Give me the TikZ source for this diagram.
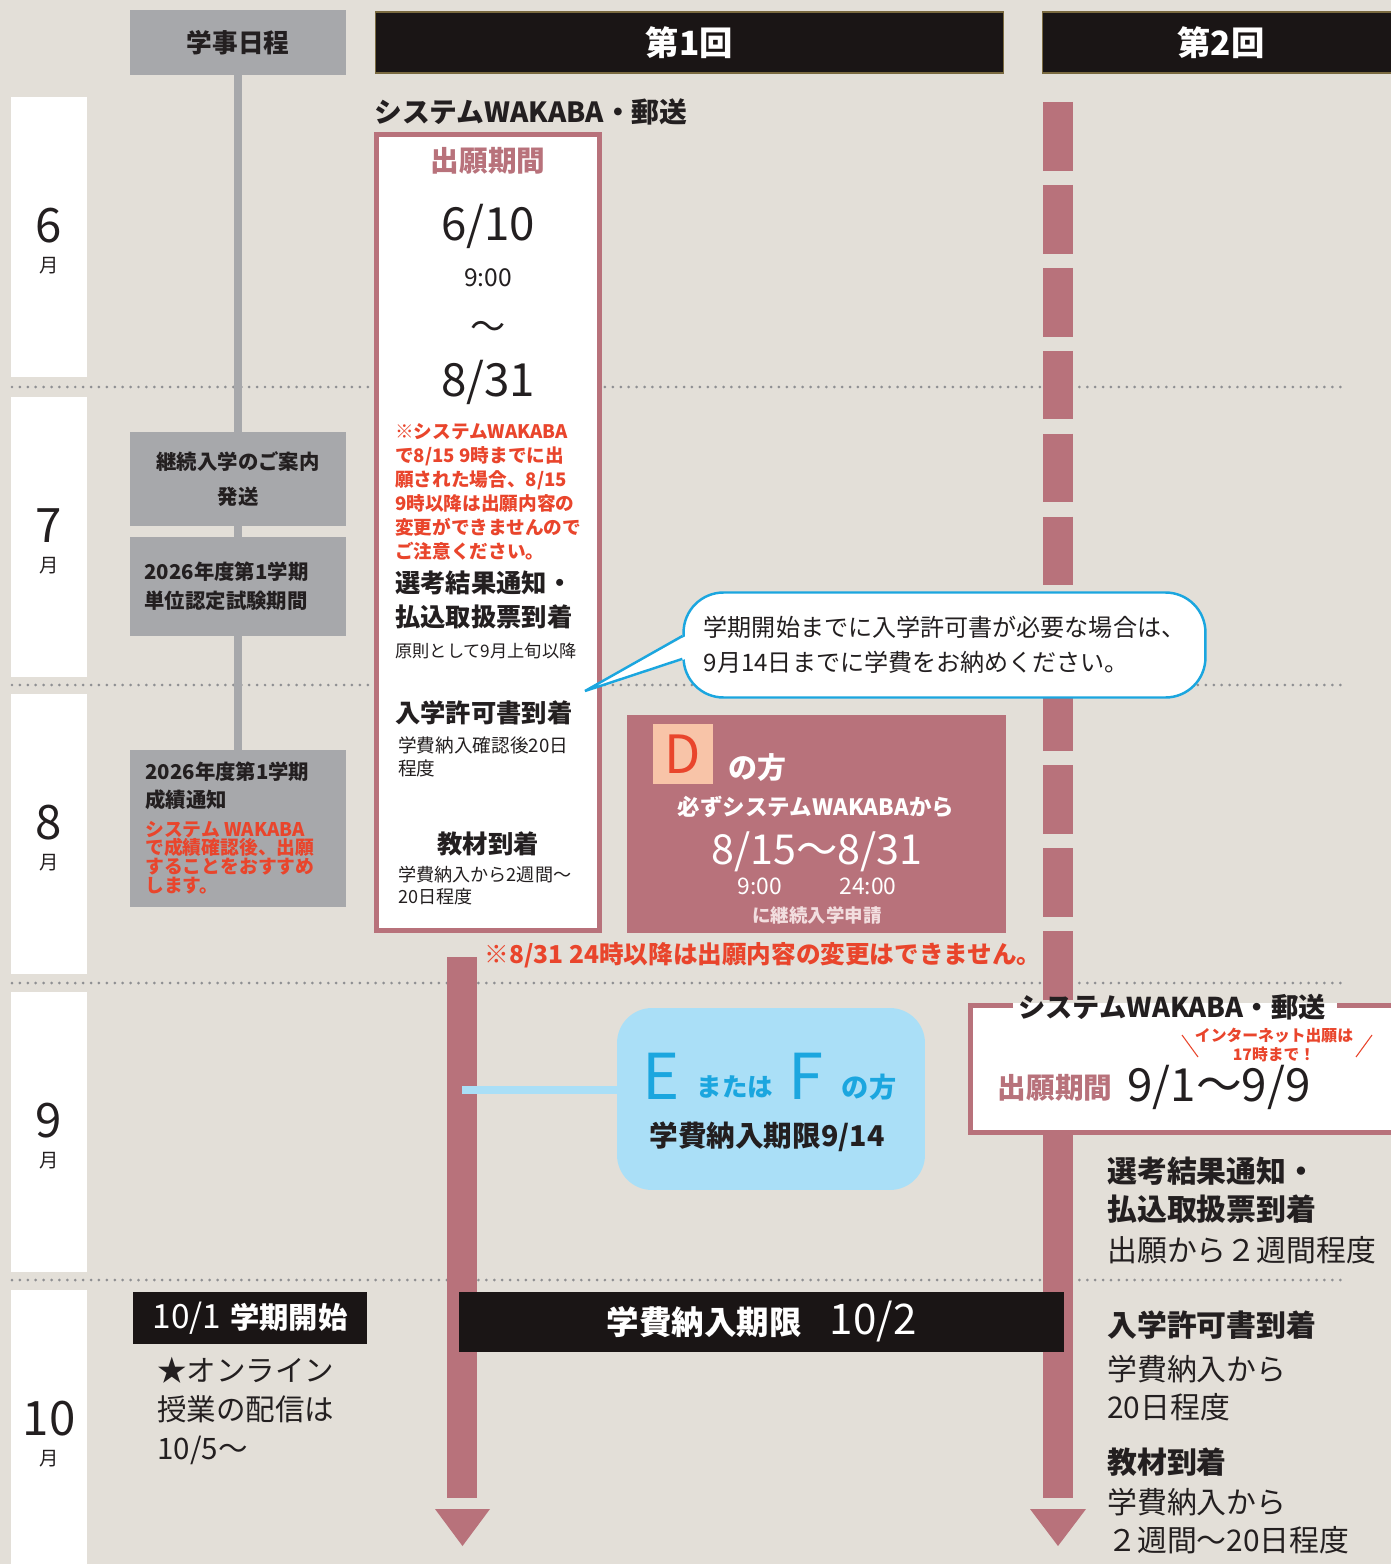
\documentclass[tikz,border=0pt]{standalone}
\usepackage{fontspec}
\setmainfont{Noto Sans CJK JP}
\newcommand{\fsz}[2]{\fontsize{#1pt}{#2pt}\selectfont}
\definecolor{bgc}{HTML}{E3DFD8}
\definecolor{grayc}{HTML}{A7A8AB}
\definecolor{pinkc}{HTML}{B8727B}
\definecolor{inkc}{HTML}{1A1515}
\definecolor{goldc}{HTML}{7A6A40}
\definecolor{textc}{HTML}{231F20}
\definecolor{redc}{HTML}{E9452C}
\definecolor{cyanc}{HTML}{1BA6DF}
\definecolor{skyc}{HTML}{AADFF7}
\definecolor{salmonc}{HTML}{F8C4A8}
\definecolor{palec}{HTML}{F2DEDF}
\definecolor{dotc}{HTML}{8E8F92}
\tikzset{
  txt/.style={inner sep=0pt,text=textc},
  monthbox/.style={fill=white,minimum width=1.52cm,minimum height=5.6cm,inner sep=0pt},
  monthnum/.style={txt,font=\fsz{27}{30}},
  monthlbl/.style={txt,font=\fsz{11}{13}},
  graybox/.style={fill=grayc,minimum width=4.34cm,inner sep=0pt,text=textc,font=\bfseries\fsz{11.6}{19.8}},
  blackbox/.style={fill=inkc,text=white,inner sep=0pt},
  dots/.style={dotc,line width=1.7pt,line cap=round,dash pattern=on 0pt off 4.5pt},
  bar/.style={pinkc,line width=17pt},
  headtxt/.style={txt,font=\bfseries\fsz{14.4}{19}},
}
\begin{document}
\begin{tikzpicture}[x=0.02cm,y=-0.02cm]
  \fill[bgc] (0,0) rectangle (1391,1564);
  \useasboundingbox (0,0) rectangle (1391,1564);

  \node[monthbox] (jun) at (49,237) {};
  \node[monthbox] (jul) at (49,537) {};
  \node[monthbox] (aug) at (49,834) {};
  \node[monthbox] (sep) at (49,1132) {};
  \node[monthbox] (oct) at (49,1430) {};
  \node[monthnum] (junnum) at (49,226) {6};
  \node[monthlbl] (junlbl) at (49,266) {月};
  \node[monthnum] (julnum) at (49,526) {7};
  \node[monthlbl] (jullbl) at (49,566) {月};
  \node[monthnum] (augnum) at (49,823) {8};
  \node[monthlbl] (auglbl) at (49,863) {月};
  \node[monthnum] (sepnum) at (49,1121) {9};
  \node[monthlbl] (seplbl) at (49,1161) {月};
  \node[monthnum] (octnum) at (49,1419) {10};
  \node[monthlbl] (octlbl) at (49,1459) {月};

  \draw[dots] (12,387) -- (1342,387);
  \draw[dots] (12,685) -- (1342,685);
  \draw[dots] (12,983) -- (1342,983);
  \draw[dots] (12,1280) -- (1342,1280);

  \node[graybox,minimum height=1.3cm,font=\bfseries\fsz{14.6}{17}] (sched) at (238,42.5) {学事日程};
  \node[graybox,minimum height=1.88cm,align=center] (guide) at (238,479) {継続入学のご案内\\発送};
  \node[graybox,minimum height=1.98cm,text width=3.74cm,inner xsep=0.3cm,align=left,font=\bfseries\fsz{11.6}{16.4}] (exam) at (238,586.5) {2026年度第1学期\\単位認定試験期間};
  \node[graybox,minimum height=3.14cm] (grade) at (238,828.5) {};
  \node[txt,anchor=west,align=left,font=\bfseries\fsz{11.6}{16}] (gradetxt) at (145,786) {2026年度第1学期\\成績通知};
  \node[txt,anchor=west,align=left,text=redc,font=\bfseries\fsz{10.7}{10.6}] (gradenote) at (145,857.5) {システム WAKABA\\で成績確認後、出願\\することをおすすめ\\します。};
  \draw[grayc,line width=4.2pt] (sched.south) -- (guide.north) (guide.south) -- (exam.north) (exam.south) -- (grade.north);

  \node[blackbox,draw=goldc,line width=0.6pt,minimum width=12.58cm,minimum height=1.22cm,font=\bfseries\fsz{19}{22}] (first) at (689.5,42.5) {第1回};
  \node[blackbox,draw=goldc,line width=0.6pt,minimum width=7.16cm,minimum height=1.22cm,font=\bfseries\fsz{19}{22}] (second) at (1221,42.5) {第2回};

  \node[txt,anchor=west,font=\bfseries\fsz{15.8}{18}] (web1) at (374,112) {システムWAKABA・郵送};
  \node[draw=pinkc,line width=2.83pt,fill=white,minimum width=4.46cm,minimum height=15.92cm,inner sep=0pt] (period1) at (488,532.5) {};
  \node[txt,text=pinkc,font=\bfseries\fsz{16.3}{19}] (p1title) at (488,161) {出願期間};
  \node[txt,font=\fsz{26}{30}] (p1from) at (488,226) {6/10};
  \node[txt,font=\fsz{14}{16}] (p1fromt) at (488,278) {9:00};
  \node[txt,font=\fsz{20}{22}] (p1tilde) at (488,330) {〜};
  \node[txt,font=\fsz{26}{30}] (p1to) at (488,382) {8/31};
  \node[txt,anchor=west,text=redc,align=left,font=\bfseries\fsz{10.6}{13.7}] (p1note) at (395,492) {※システムWAKABA\\で8/15 9時までに出\\願された場合、8/15\\9時以降は出願内容の\\変更ができませんので\\ご注意ください。};
  \node[headtxt,anchor=west,align=left] (p1result) at (395,600) {選考結果通知・\\払込取扱票到着};
  \node[txt,anchor=west,font=\fsz{9.8}{12}] (p1resultd) at (395,651) {原則として9月上旬以降};
  \node[headtxt,anchor=west] (p1permit) at (395,713) {入学許可書到着};
  \node[txt,anchor=west,align=left,font=\fsz{10.6}{12.8}] (p1permitd) at (398,757) {学費納入確認後20日\\程度};
  \node[headtxt] (p1books) at (488,844) {教材到着};
  \node[txt,anchor=west,align=left,font=\fsz{10.3}{12.5}] (p1booksd) at (398,886) {学費納入から2週間〜\\20日程度};

  \coordinate (r2top) at (1058,102);
  \coordinate (r2box) at (1058,1004);
  \draw[bar,dash pattern=on 39.1pt off 8.1pt] (r2top) -- (r2box);

  \node[fill=white,draw=cyanc,line width=1.4pt,rounded corners=0.8cm,minimum width=10.44cm,minimum height=2.1cm,inner sep=0pt,text=textc,align=left,font=\fsz{13.7}{19.8}] (advice) at (944.5,645) {学期開始までに入学許可書が必要な場合は、\\9月14日までに学費をお納めください。};
  \coordinate (advtip) at (585,691);
  \fill[white] ([xshift=2pt,yshift=5.1pt]advice.west) -- (advtip) -- ([xshift=2pt,yshift=-7.9pt]advice.west) -- cycle;
  \draw[cyanc,line width=1.4pt] ([yshift=5.1pt]advice.west) -- (advtip) -- ([yshift=-7.9pt]advice.west);

  \node[fill=pinkc,minimum width=7.58cm,minimum height=4.36cm,inner sep=0pt] (dgroup) at (816.5,824) {};
  \node[fill=salmonc,minimum size=1.2cm,inner sep=0pt,text=redc,font=\fsz{30}{32}] (dmark) at (682.5,754) {D};
  \node[txt,text=white,font=\bfseries\fsz{16.5}{19}] (dwho) at (757,768) {の方};
  \node[txt,text=white,font=\bfseries\fsz{12.8}{15}] (dvia) at (816,807) {必ずシステムWAKABAから};
  \node[txt,text=white,font=\fsz{23.5}{28}] (ddate) at (817,852) {8/15〜8/31};
  \node[txt,text=white,font=\fsz{13}{15}] (dfrom) at (760,886) {9:00};
  \node[txt,text=white,font=\fsz{13}{15}] (dto) at (868,886) {24:00};
  \node[txt,text=palec,font=\bfseries\fsz{10.5}{12}] (dapply) at (817,915) {に継続入学申請};

  \node[txt,text=redc,font=\bfseries\fsz{14}{16}] (lastnote) at (763,955) {※8/31 24時以降は出願内容の変更はできません。};

  \coordinate (r1top) at (462,957);
  \coordinate (r1end) at (462,1498);
  \draw[bar] (r1top) -- (r1end);
  \fill[pinkc] (435,1509) -- (490,1509) -- (462.5,1546) -- cycle;

  \node[fill=skyc,rounded corners=0.7cm,minimum width=6.16cm,minimum height=3.64cm,inner sep=0pt] (efbox) at (771,1099) {};
  \coordinate (r1join) at (462,1090);
  \draw[skyc,line width=5pt] (r1join) -- (r1join -| efbox.west);
  \node[txt,text=cyanc,font=\fsz{36}{40}] (eletter) at (661,1076) {E};
  \node[txt,text=cyanc,font=\bfseries\fsz{14.5}{16}] (eor) at (735,1087) {または};
  \node[txt,text=cyanc,font=\fsz{36}{40}] (fletter) at (806,1076) {F};
  \node[txt,text=cyanc,font=\bfseries\fsz{15.5}{17}] (efwho) at (869,1087) {の方};
  \node[txt,font=\bfseries\fsz{16.3}{18}] (efdue) at (767,1137) {学費納入期限9/14};

  \coordinate (r2start) at (1058,1134);
  \coordinate (r2end) at (1058,1498);
  \draw[bar] (r2start) -- (r2end);
  \fill[pinkc] (1030,1509) -- (1086,1509) -- (1058,1546) -- cycle;

  \fill[white] (970,1003) rectangle (1400,1135);
  \draw[pinkc,line width=2.83pt] (1013,1005.5) -- (970.5,1005.5) -- (970.5,1132.5) -- (1400,1132.5);
  \draw[pinkc,line width=2.83pt] (1337,1005.5) -- (1400,1005.5);
  \node[txt,font=\bfseries\fsz{15.5}{18}] (web2) at (1172,1007) {システムWAKABA・郵送};
  \node[txt,text=pinkc,font=\bfseries\fsz{16.3}{19}] (p2title) at (1055,1088) {出願期間};
  \node[txt,font=\fsz{26}{30}] (p2date) at (1219,1087) {9/1〜9/9};
  \node[txt,text=redc,align=center,font=\bfseries\fsz{9}{11.3}] (p2note) at (1274,1045) {インターネット出願は\\17時まで！};
  \draw[redc,line width=0.6pt] (1182,1035) -- (1198,1057);
  \draw[redc,line width=0.6pt] (1372,1035) -- (1356,1057);

  \node[txt,anchor=west,align=left,font=\bfseries\fsz{17}{21.5}] (p2result) at (1107,1190) {選考結果通知・\\払込取扱票到着};
  \node[txt,anchor=west,font=\fsz{17}{20}] (p2resultd) at (1107,1250) {出願から２週間程度};
  \node[txt,anchor=west,font=\bfseries\fsz{17}{20}] (p2permit) at (1107,1325) {入学許可書到着};
  \node[txt,anchor=west,align=left,font=\fsz{17}{21.8}] (p2permitd) at (1107,1388) {学費納入から\\20日程度};
  \node[txt,anchor=west,font=\bfseries\fsz{17}{20}] (p2books) at (1107,1462) {教材到着};
  \node[txt,anchor=west,align=left,font=\fsz{17}{21.8}] (p2booksd) at (1107,1521) {学費納入から\\２週間〜20日程度};

  \node[blackbox,minimum width=12.1cm,minimum height=1.2cm] (duebar) at (761.5,1322) {{\bfseries\fsz{18.5}{20}学費納入期限}\hspace{1.6em}{\fsz{24}{26}10/2}};
  \node[blackbox,minimum width=4.68cm,minimum height=1.04cm] (termstart) at (250,1318) {{\fsz{19}{22}10/1}\hspace{0.5em}{\bfseries\fsz{16.7}{19}学期開始}};
  \node[txt,anchor=west,align=left,font=\fsz{16.8}{22}] (online) at (157,1411) {★オンライン\\授業の配信は\\10/5〜};
\end{tikzpicture}
\end{document}
